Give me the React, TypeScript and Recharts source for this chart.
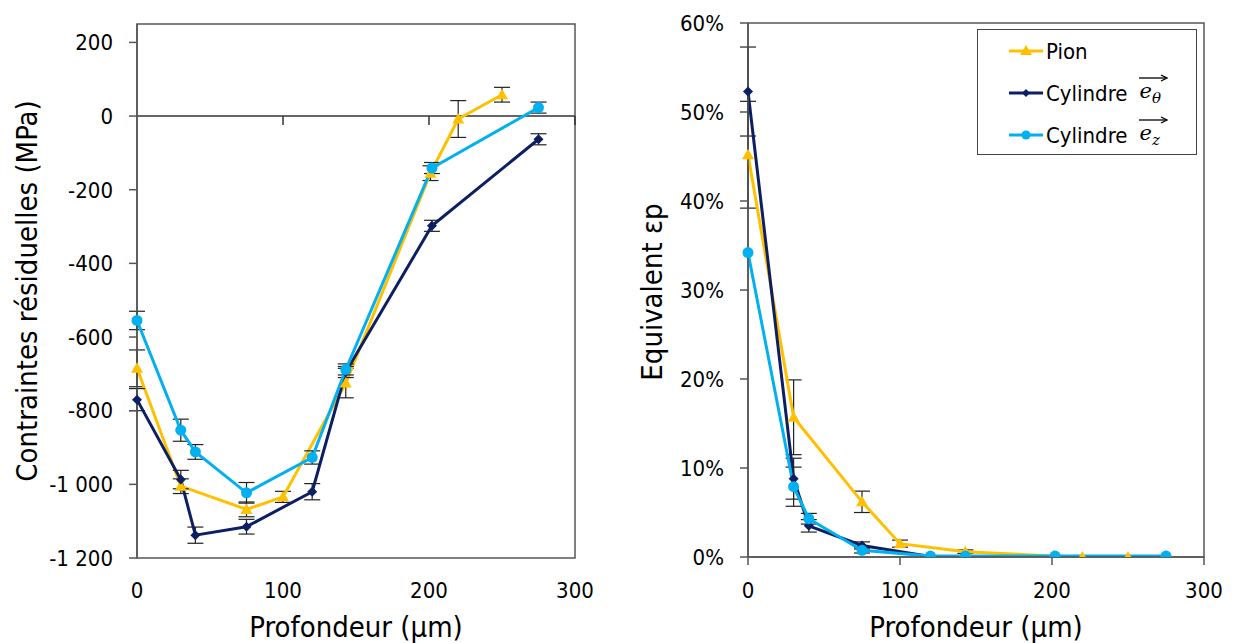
import React from 'react';
import { LineChart, Line, XAxis, YAxis, ErrorBar, ReferenceLine, ReferenceArea } from 'recharts';

// ---------- data (left chart: residual stress, MPa) ----------
const depthPion = [0, 30, 75, 100, 143, 201, 220, 250];
const stressPion = [-685, -1005, -1068, -1034, -725, -155, -8, 58];
const stressPionErr = [50, 20, 20, 15, 40, 20, 50, 20];

const depthCyl = [0, 30, 40, 75, 120, 143, 202, 275];
const stressCylTheta = [-770, -987, -1138, -1115, -1020, -695, -298, -63];
const stressCylThetaErr = [30, 25, 22, 20, 22, 15, 15, 15];
const stressCylZ = [-555, -853, -912, -1023, -927, -688, -141, 23];
const stressCylZErr = [25, 30, 20, 28, 18, 15, 15, 15];

// ---------- data (right chart: equivalent plastic strain, %) ----------
const strainPion = [45.2, 15.7, 6.2, 1.5, 0.6, 0.1, 0, 0];
const strainPionErr = [6, 4.2, 1.2, 0.4, 0.2, 0, 0, 0];
const strainCylTheta = [52.3, 8.8, 3.5, 1.3, 0.05, 0.05, 0, 0];
const strainCylThetaErr = [5, 2.3, 0.7, 0.4, 0, 0, 0, 0];
const strainCylZ = [34.2, 7.9, 4.3, 0.75, 0.1, 0.1, 0.1, 0.1];
const strainCylZErr = [0, 2.2, 0.6, 0.3, 0, 0, 0, 0];

const xTicks = [0, 100, 200, 300];
const stressTicks = [-1200, -1000, -800, -600, -400, -200, 0, 200];
const strainTicks = [0, 10, 20, 30, 40, 50, 60];

const seriesNames = ['Pion', 'Cylindre', 'Cylindre'];

const YEL = '#FFC000';
const NAVY = '#0D1F63';
const CYAN = '#00B0F0';
const AX = '#555555';
const FONT = "'DejaVu Sans Condensed', 'DejaVu Sans', sans-serif";

const build = (ds: number[], vs: number[], es: number[]) => ds.map((d, i) => ({ d, v: vs[i], e: es[i] }));

const pionStress = build(depthPion, stressPion, stressPionErr);
const thetaStress = build(depthCyl, stressCylTheta, stressCylThetaErr);
const zStress = build(depthCyl, stressCylZ, stressCylZErr);
const pionStrain = build(depthPion, strainPion, strainPionErr);
const thetaStrain = build(depthCyl, strainCylTheta, strainCylThetaErr);
const zStrain = build(depthCyl, strainCylZ, strainCylZErr);

const triDot = (props: any) => {
  const { cx, cy, index } = props;
  if (cx == null || cy == null) return <g key={'t' + index} />;
  const s = 6;
  return <path key={'t' + index} d={`M${cx},${cy - s} L${cx + s},${cy + s * 0.75} L${cx - s},${cy + s * 0.75} Z`} fill={YEL} />;
};
const diaDot = (props: any) => {
  const { cx, cy, index } = props;
  if (cx == null || cy == null) return <g key={'d' + index} />;
  const s = 5;
  return <path key={'d' + index} d={`M${cx},${cy - s} L${cx + s},${cy} L${cx},${cy + s} L${cx - s},${cy} Z`} fill={NAVY} />;
};
const cirDot = (props: any) => {
  const { cx, cy, index } = props;
  if (cx == null || cy == null) return <g key={'c' + index} />;
  return <circle key={'c' + index} cx={cx} cy={cy} r={5.5} fill={CYAN} />;
};

const tickStyle = { fill: '#000', fontSize: 22, fontFamily: FONT };
const fmtStress = (v: number) => {
  const a = Math.abs(v);
  const s = a >= 1000 ? `${Math.floor(a / 1000)} ${String(a % 1000).padStart(3, '0')}` : String(a);
  return v < 0 ? '-' + s : s;
};

const titleStyle: React.CSSProperties = {
  position: 'absolute',
  fontFamily: FONT,
  fontSize: 29,
  color: '#000',
  whiteSpace: 'nowrap',
  transform: 'translate(-50%, -50%)',
  lineHeight: 1,
};

const Vec = ({ sub }: { sub: string }) => (
  <span style={{ position: 'relative', display: 'inline-block', marginLeft: 12, fontFamily: "'DejaVu Serif', serif", fontStyle: 'italic', fontSize: 21 }}>
    <svg width={30} height={10} style={{ position: 'absolute', left: -1, top: -6 }}>
      <line x1={1} y1={5} x2={28} y2={5} stroke="#000" strokeWidth={1.3} />
      <path d="M23,2 L29,5 L23,8" fill="none" stroke="#000" strokeWidth={1.3} />
    </svg>
    e<sub style={{ fontSize: 15, verticalAlign: -5 }}>{sub}</sub>
  </span>
);

const LegendRow = ({ color, marker, label, sub }: { color: string; marker: string; label: string; sub?: string }) => (
  <div style={{ display: 'flex', alignItems: 'center', height: 42 }}>
    <svg width={34} height={14} style={{ marginLeft: 31, marginRight: 3 }}>
      <line x1={0} y1={7} x2={34} y2={7} stroke={color} strokeWidth={3} />
      {marker === 'tri' && <path d="M17,1 L23,11 L11,11 Z" fill={color} />}
      {marker === 'dia' && <path d="M17,3 L21,7 L17,11 L13,7 Z" fill={color} />}
      {marker === 'cir' && <circle cx={17} cy={7} r={4.5} fill={color} />}
    </svg>
    <span style={{ fontFamily: FONT, fontSize: 22, color: '#000' }}>{label}</span>
    {sub && <Vec sub={sub} />}
  </div>
);

export default function App() {
  return (
    <div style={{ position: 'absolute', left: 0, top: 0, width: 1235, height: 643, background: '#fff' }}>
      {/* Left chart */}
      <div style={{ position: 'absolute', left: 0, top: 0 }}>
        <LineChart width={600} height={643} margin={{ top: 24, right: 25, left: 77, bottom: 55 }}>
          <XAxis
            dataKey="d"
            type="number"
            domain={[0, 300]}
            ticks={xTicks}
            axisLine={false}
            tickLine={false}
            tickSize={8}
            tickMargin={16}
            height={30}
            tick={tickStyle}
            allowDuplicatedCategory={false}
          />
          <YAxis
            type="number"
            domain={[-1200, 250]}
            ticks={stressTicks}
            allowDataOverflow
            width={60}
            tickSize={8}
            tickMargin={16}
            axisLine={{ stroke: AX, strokeWidth: 1.5 }}
            tickLine={{ stroke: AX, strokeWidth: 1.5 }}
            tick={tickStyle}
            tickFormatter={fmtStress}
          />
          <ReferenceArea x1={0} x2={300} y1={-1200} y2={250} fill="none" stroke={AX} strokeWidth={1.5} ifOverflow="visible" />
          <ReferenceLine y={0} stroke="#333" strokeWidth={1.5} />
          {xTicks.slice(1).map((t) => (
            <ReferenceLine key={t} segment={[{ x: t, y: 0 }, { x: t, y: -24 }]} stroke="#333" strokeWidth={1.5} />
          ))}
          <Line data={pionStress} dataKey="v" name={seriesNames[0]} stroke={YEL} strokeWidth={3} dot={triDot} isAnimationActive={false}>
            <ErrorBar dataKey="e" width={8} stroke="#222" strokeWidth={1.2} direction="y" />
          </Line>
          <Line data={thetaStress} dataKey="v" name={seriesNames[1]} stroke={NAVY} strokeWidth={3} dot={diaDot} isAnimationActive={false}>
            <ErrorBar dataKey="e" width={8} stroke="#222" strokeWidth={1.2} direction="y" />
          </Line>
          <Line data={zStress} dataKey="v" name={seriesNames[2]} stroke={CYAN} strokeWidth={3} dot={cirDot} isAnimationActive={false}>
            <ErrorBar dataKey="e" width={8} stroke="#222" strokeWidth={1.2} direction="y" />
          </Line>
        </LineChart>
      </div>

      {/* Right chart */}
      <div style={{ position: 'absolute', left: 620, top: 0 }}>
        <LineChart width={615} height={643} margin={{ top: 23, right: 31, left: 68, bottom: 56 }}>
          <XAxis
            dataKey="d"
            type="number"
            domain={[0, 300]}
            ticks={xTicks}
            axisLine={{ stroke: AX, strokeWidth: 1.5 }}
            tickLine={{ stroke: AX, strokeWidth: 1.5 }}
            tickSize={8}
            tickMargin={17}
            height={30}
            tick={tickStyle}
            allowDuplicatedCategory={false}
          />
          <YAxis
            type="number"
            domain={[0, 60]}
            ticks={strainTicks}
            allowDataOverflow
            width={60}
            tickSize={8}
            tickMargin={16}
            axisLine={{ stroke: AX, strokeWidth: 1.5 }}
            tickLine={{ stroke: AX, strokeWidth: 1.5 }}
            tick={tickStyle}
            tickFormatter={(v: number) => `${v}%`}
          />
          <ReferenceArea x1={0} x2={300} y1={0} y2={60} fill="none" stroke={AX} strokeWidth={1.5} ifOverflow="visible" />
          <Line data={pionStrain} dataKey="v" name={seriesNames[0]} stroke={YEL} strokeWidth={3} dot={triDot} isAnimationActive={false}>
            <ErrorBar dataKey="e" width={8} stroke="#222" strokeWidth={1.2} direction="y" />
          </Line>
          <Line data={thetaStrain} dataKey="v" name={seriesNames[1]} stroke={NAVY} strokeWidth={3} dot={diaDot} isAnimationActive={false}>
            <ErrorBar dataKey="e" width={8} stroke="#222" strokeWidth={1.2} direction="y" />
          </Line>
          <Line data={zStrain} dataKey="v" name={seriesNames[2]} stroke={CYAN} strokeWidth={3} dot={cirDot} isAnimationActive={false}>
            <ErrorBar dataKey="e" width={8} stroke="#222" strokeWidth={1.2} direction="y" />
          </Line>
        </LineChart>
      </div>

      {/* Axis titles */}
      <div style={{ ...titleStyle, left: 27, top: 291, transform: 'translate(-50%, -50%) rotate(-90deg)' }}>Contraintes résiduelles (MPa)</div>
      <div style={{ ...titleStyle, left: 652, top: 292, transform: 'translate(-50%, -50%) rotate(-90deg)' }}>Equivalent εp</div>
      <div style={{ ...titleStyle, left: 356, top: 627 }}>Profondeur (µm)</div>
      <div style={{ ...titleStyle, left: 976, top: 627 }}>Profondeur (µm)</div>

      {/* Legend */}
      <div style={{ position: 'absolute', left: 977, top: 29, width: 218, height: 124, border: '1.5px solid #444', background: '#fff', paddingTop: 0 }}>
        <LegendRow color={YEL} marker="tri" label={seriesNames[0]} />
        <LegendRow color={NAVY} marker="dia" label={seriesNames[1]} sub="θ" />
        <LegendRow color={CYAN} marker="cir" label={seriesNames[2]} sub="z" />
      </div>
    </div>
  );
}
